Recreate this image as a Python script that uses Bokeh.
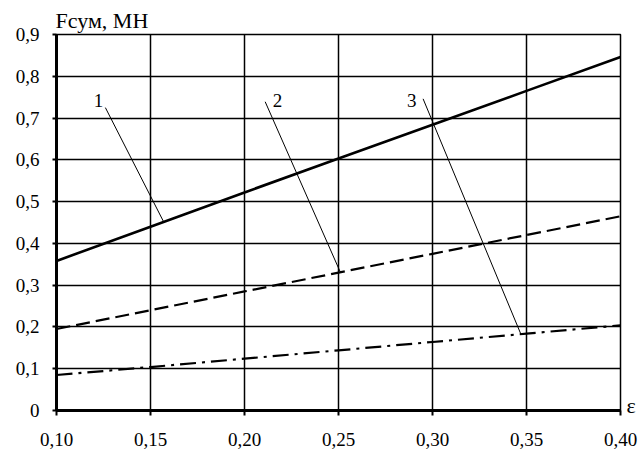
import numpy as np
from bokeh.plotting import figure
from bokeh.models import Range1d, FixedTicker, LinearAxis, ColumnDataSource
from bokeh.embed import file_html
from bokeh.resources import INLINE
from bokeh.core.properties import value

# ---- data ----
eps = [0.10, 0.15, 0.20, 0.25, 0.30, 0.35, 0.40]
f1 = [0.358, 0.440, 0.522, 0.603, 0.684, 0.765, 0.846]
f2 = [0.195, 0.240, 0.285, 0.330, 0.375, 0.420, 0.465]
f3 = [0.085, 0.104, 0.124, 0.144, 0.164, 0.184, 0.204]

x_ticks = [0.10, 0.15, 0.20, 0.25, 0.30, 0.35, 0.40]
x_tick_labels = ["0,10", "0,15", "0,20", "0,25", "0,30", "0,35", "0,40"]
y_ticks = [0.0, 0.1, 0.2, 0.3, 0.4, 0.5, 0.6, 0.7, 0.8, 0.9]
y_tick_labels = ["0", "0,1", "0,2", "0,3", "0,4", "0,5", "0,6", "0,7", "0,8", "0,9"]

curve_labels = ["1", "2", "3"]
label_x = [0.1223, 0.2176, 0.2890]
label_y = [0.742, 0.742, 0.742]
leader_start_x = [0.126, 0.211, 0.295]
leader_start_y = [0.725, 0.739, 0.746]
leader_end_x = [0.157, 0.251, 0.347]

y_title = "Fсум, МН"
x_title = "ε"
x_title_y = 0.012

FONT = "'Liberation Serif', 'Times New Roman', serif"

p = figure(width=638, height=454,
           x_range=Range1d(0.10, 0.40), y_range=Range1d(0.0, 0.9),
           output_backend="svg", toolbar_location=None,
           min_border_left=56, min_border_right=18,
           min_border_top=34, min_border_bottom=44)

p.background_fill_color = "white"
p.border_fill_color = "white"
p.outline_line_color = "black"
p.outline_line_width = 1.5

# title used as the y-quantity caption at top-left
p.title.text = y_title
p.title.text_font = FONT
p.title.text_font_size = "22px"
p.title.text_font_style = "normal"
p.title.text_color = "black"
p.title.align = "left"
p.title.offset = -1
p.title.standoff = 4

for g in (p.xgrid, p.ygrid):
    g.grid_line_color = "black"
    g.grid_line_width = 1.5
p.xgrid.ticker = FixedTicker(ticks=x_ticks)
p.ygrid.ticker = FixedTicker(ticks=y_ticks)

xa = p.xaxis[0]
xa.ticker = FixedTicker(ticks=x_ticks)
xa.major_label_overrides = {t: l for t, l in zip(x_ticks, x_tick_labels)}
ya = p.yaxis[0]
ya.ticker = FixedTicker(ticks=y_ticks)
ya.major_label_overrides = {t: l for t, l in zip(y_ticks, y_tick_labels)}

for ax in (xa, ya):
    ax.axis_line_color = "black"
    ax.axis_line_width = 3
    ax.major_tick_line_color = "black"
    ax.major_tick_line_width = 2
    ax.major_tick_in = 0
    ax.minor_tick_line_color = None
    ax.major_label_text_font = FONT
    ax.major_label_text_font_size = "19px"
    ax.major_label_text_color = "black"
xa.major_tick_out = 5
xa.major_label_standoff = 17
ya.major_tick_out = 4
ya.major_label_standoff = 13

# x-quantity symbol at the right end of the x axis
ra = LinearAxis(ticker=FixedTicker(ticks=[x_title_y]),
                major_label_overrides={x_title_y: x_title},
                axis_line_color=None, major_tick_line_color=None,
                major_tick_in=0, major_tick_out=0,
                minor_tick_line_color=None, minor_tick_in=0, minor_tick_out=0,
                major_label_standoff=6,
                major_label_text_font=FONT, major_label_text_font_size="22px",
                major_label_text_color="black")
p.add_layout(ra, "right")

# curves
p.line(eps, f1, line_color="black", line_width=2.6)
p.line(eps, f2, line_color="black", line_width=2.2, line_dash="14 6")
p.line(eps, f3, line_color="black", line_width=2.2, line_dash="16 6 3 6")

# leader lines (end on the curves)
curves = [f1, f2, f3]
leader_end_y = [float(np.interp(xe, eps, c)) for xe, c in zip(leader_end_x, curves)]
p.segment(x0=leader_start_x, y0=leader_start_y, x1=leader_end_x, y1=leader_end_y,
          line_color="black", line_width=1)

src = ColumnDataSource(dict(x=label_x, y=label_y, t=curve_labels))
p.text(x="x", y="y", text="t", source=src, text_font=value(FONT),
       text_font_size="19px", text_align="center", text_baseline="alphabetic",
       text_color="black")

open("out.html", "w").write(file_html(p, INLINE))
